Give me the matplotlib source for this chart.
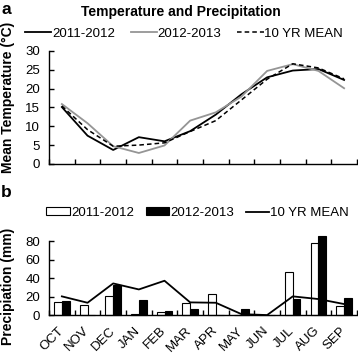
import numpy as np
import matplotlib
matplotlib.use("Agg")
import matplotlib.pyplot as plt
from matplotlib.patches import Patch
from matplotlib.lines import Line2D

plt.rcParams['font.family'] = ['Liberation Sans', 'DejaVu Sans']

# data
months = ['OCT', 'NOV', 'DEC', 'JAN', 'FEB', 'MAR', 'APR', 'MAY', 'JUN', 'JUL', 'AUG', 'SEP']
temp_2011 = [15.1, 7.5, 3.7, 7.1, 6.0, 8.7, 13.1, 18.5, 23.0, 24.8, 25.2, 22.3]
temp_2012 = [15.9, 10.8, 4.7, 2.9, 4.9, 11.5, 13.7, 17.9, 24.7, 26.5, 24.7, 20.1]
temp_mean = [15.4, 9.1, 4.7, 5.0, 5.6, 8.6, 11.5, 17.0, 22.5, 26.6, 25.5, 22.6]
prec_2011 = [13.7, 10.5, 20.2, 1.0, 3.6, 13.3, 22.3, 0.3, 0.0, 46.1, 77.5, 9.4]
prec_2012 = [15.1, 0.0, 32.4, 15.9, 4.3, 6.1, 0.5, 6.1, 0.0, 17.3, 85.8, 18.7]
prec_mean = [20.2, 13.3, 34.2, 27.7, 37.1, 13.7, 13.3, 1.0, 0.0, 20.2, 17.3, 11.9]

x = np.arange(len(months))
gray = '#959595'

fig = plt.figure(figsize=(3.58, 3.54), dpi=100)
ax1 = fig.add_axes([0.137, 0.537, 0.860, 0.319])
ax2 = fig.add_axes([0.137, 0.110, 0.860, 0.209])

# panel a: temperature
ax1.plot(x, temp_2011, color='black', lw=1.3, label='2011-2012')
ax1.plot(x, temp_2012, color=gray, lw=1.3, label='2012-2013')
ax1.plot(x, temp_mean, color='black', lw=1.1, ls=(0, (3, 2)), label='10 YR MEAN')
ax1.set_ylim(0, 30)
ax1.set_yticks(range(0, 31, 5))
ax1.set_xlim(-0.5, len(months) - 0.5)
ax1.set_xticks(np.arange(-0.5, len(months), 1))
ax1.set_xticklabels([])
ax1.set_ylabel('Mean Temperature (°C)', fontsize=10, fontweight='bold')
ax1.yaxis.set_label_coords(-0.11, 0.59)
ax1.legend(loc='center', bbox_to_anchor=(0.514, 0.905), bbox_transform=fig.transFigure,
           ncol=3, frameon=False, fontsize=9.5, handlelength=2.0, handletextpad=0.05,
           columnspacing=1.2, borderpad=0)

# panel b: precipitation
w = 0.3
ax2.bar(x - w / 2, prec_2011, width=w, color='white', edgecolor='black', lw=0.8,
        clip_on=False, label='2011-2012')
ax2.bar(x + w / 2, prec_2012, width=w, color='black', edgecolor='black', lw=0.8,
        clip_on=False, label='2012-2013')
ax2.plot(x, prec_mean, color='black', lw=1.3, label='10 YR MEAN')
ax2.set_ylim(0, 80)
ax2.set_yticks(range(0, 81, 20))
ax2.set_xlim(-0.5, len(months) - 0.5)
ax2.set_xticks(np.arange(-0.5, len(months), 1))
ax2.set_xticklabels([])
ax2.set_xticks(x, minor=True)
ax2.set_xticklabels(months, minor=True, rotation=45, ha='right', va='center',
                    rotation_mode='anchor', fontsize=9.5)
ax2.tick_params(axis='x', which='minor', length=0, pad=10)
ax2.set_ylabel('Precipiation (mm)', fontsize=10, fontweight='bold')
ax2.yaxis.set_label_coords(-0.11, 0.39)
handles = [Patch(facecolor='white', edgecolor='black', lw=0.8),
           Patch(facecolor='black', edgecolor='black', lw=0.8),
           Line2D([], [], color='black', lw=1.3)]
ax2.legend(handles, ['2011-2012', '2012-2013', '10 YR MEAN'], loc='center',
           bbox_to_anchor=(0.552, 0.398), bbox_transform=fig.transFigure,
           ncol=3, frameon=False, fontsize=9.5, handlelength=1.8, handleheight=0.55,
           handletextpad=0.05, columnspacing=0.9, borderpad=0)

for ax in (ax1, ax2):
    ax.spines['top'].set_visible(False)
    ax.spines['right'].set_visible(False)
    ax.spines['left'].set_linewidth(1.0)
    ax.spines['bottom'].set_linewidth(1.0)
    ax.tick_params(axis='both', which='major', direction='in', length=3.5, width=1.0,
                   labelsize=9.5, pad=6.5)

fig.text(0.505, 0.985, 'Temperature and Precipitation', ha='center', va='top',
         fontsize=10, fontweight='bold')
fig.text(0.003, 0.995, 'a', ha='left', va='top', fontsize=12.5, fontweight='bold')
fig.text(0.003, 0.478, 'b', ha='left', va='top', fontsize=12.5, fontweight='bold')

fig.savefig('out.png', dpi=100)
